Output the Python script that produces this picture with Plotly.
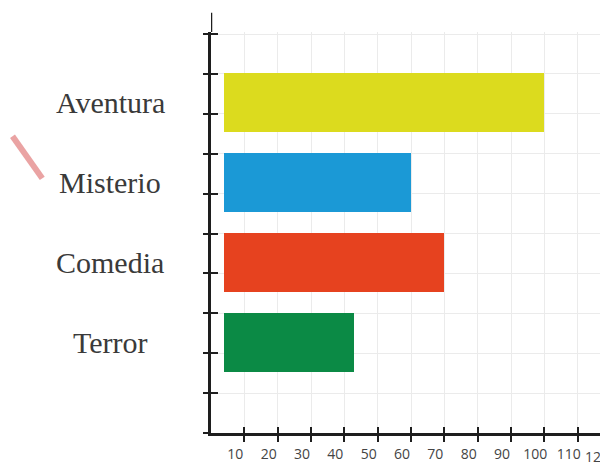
import plotly.graph_objects as go

# data
categories = ["Terror", "Comedia", "Misterio", "Aventura"]
values = [43, 70, 60, 100]
bar_colors = ["#0b8a45", "#e6421f", "#1b99d6", "#dcdb1e"]
x_ticks = [10, 20, 30, 40, 50, 60, 70, 80, 90, 100, 110]

positions = list(range(1, len(categories) + 1))
BAR_START = 4  # bars in the drawing start a bit right of the axis
X_MAX = 119.1
Y_RANGE = [-0.1375, 4.8875]
AXIS_COLOR = "#1e1e1e"
GRID_COLOR = "#ebebeb"
LABEL_SHIFT = -9  # the number labels sit a little left of their ticks

fig = go.Figure()
fig.add_trace(go.Bar(
    y=positions,
    x=[v - BAR_START for v in values],
    base=BAR_START,
    orientation="h",
    width=0.7375,
    marker=dict(color=bar_colors, line_width=0),
    hovertext=categories,
    customdata=values,
    hovertemplate="%{hovertext}: %{customdata}<extra></extra>",
))

# category labels, centred in the left margin
for cat, pos in zip(categories, positions):
    fig.add_annotation(
        x=-0.254, xref="paper", y=pos, yref="y",
        text=cat, showarrow=False, xanchor="center", yanchor="middle",
        font=dict(family="Liberation Serif", size=30, color="#3a3a3a"),
    )

# the 120 label that is cut off at the right edge
fig.add_annotation(
    x=120 / X_MAX, xref="paper", y=0, yref="paper", yshift=-23, xshift=-14,
    text="120", showarrow=False, xanchor="center", yanchor="middle",
    font=dict(family="Open Sans", size=14, color="#444444"),
)

# axis line continues above the grid
fig.add_shape(type="line", xref="x", yref="paper", x0=0, x1=0, y0=1, y1=1.048,
              line=dict(color=AXIS_COLOR, width=2.5))

# pink pencil stroke in the corner
fig.add_shape(type="line", xref="paper", yref="paper", x0=-0.5, y0=0.74, x1=-0.425, y1=0.635,
              line=dict(color="#eaa3a3", width=6))

tick_axis = dict(
    range=Y_RANGE, overlaying="y", side="left", showline=False, zeroline=False,
    tickmode="linear", tick0=0.3625, dtick=0.5, ticklen=7, tickwidth=2,
    tickcolor=AXIS_COLOR, showticklabels=False, showgrid=False,
)

# the page body keeps an 8px margin, so the figure is 8px smaller
fig.update_layout(
    width=600, height=457,
    margin=dict(l=203, r=0, t=24, b=32),
    paper_bgcolor="white", plot_bgcolor="white",
    showlegend=False, bargap=0,
    xaxis=dict(
        range=[0, X_MAX], tickmode="array", tickvals=x_ticks,
        ticks="outside", ticklen=6, tickwidth=2, tickcolor=AXIS_COLOR,
        showline=True, linecolor=AXIS_COLOR, linewidth=2.5,
        showgrid=True, gridcolor=GRID_COLOR, gridwidth=1, zeroline=False,
        ticklabelshift=LABEL_SHIFT,
        tickfont=dict(family="Open Sans", size=14, color="#444444"),
    ),
    xaxis2=dict(
        range=[0, X_MAX], overlaying="x", side="bottom", tickmode="array",
        tickvals=x_ticks, ticks="inside", ticklen=6, tickwidth=2,
        tickcolor=AXIS_COLOR, showticklabels=False, showgrid=False,
        showline=False, zeroline=False,
    ),
    yaxis=dict(
        range=Y_RANGE, tickmode="array", tickvals=positions, showticklabels=False,
        ticks="", showline=True, linecolor=AXIS_COLOR, linewidth=2.5,
        showgrid=False, zeroline=False,
    ),
    yaxis2=dict(tick_axis, ticks="outside", showgrid=True, gridcolor=GRID_COLOR),
    yaxis3=dict(tick_axis, ticks="inside"),
)

# invisible traces so the overlay axes are drawn
fig.add_trace(go.Scatter(x=[None], y=[None], xaxis="x2", yaxis="y2", hoverinfo="skip"))
fig.add_trace(go.Scatter(x=[None], y=[None], xaxis="x", yaxis="y3", hoverinfo="skip"))

fig.write_html("out.html")
